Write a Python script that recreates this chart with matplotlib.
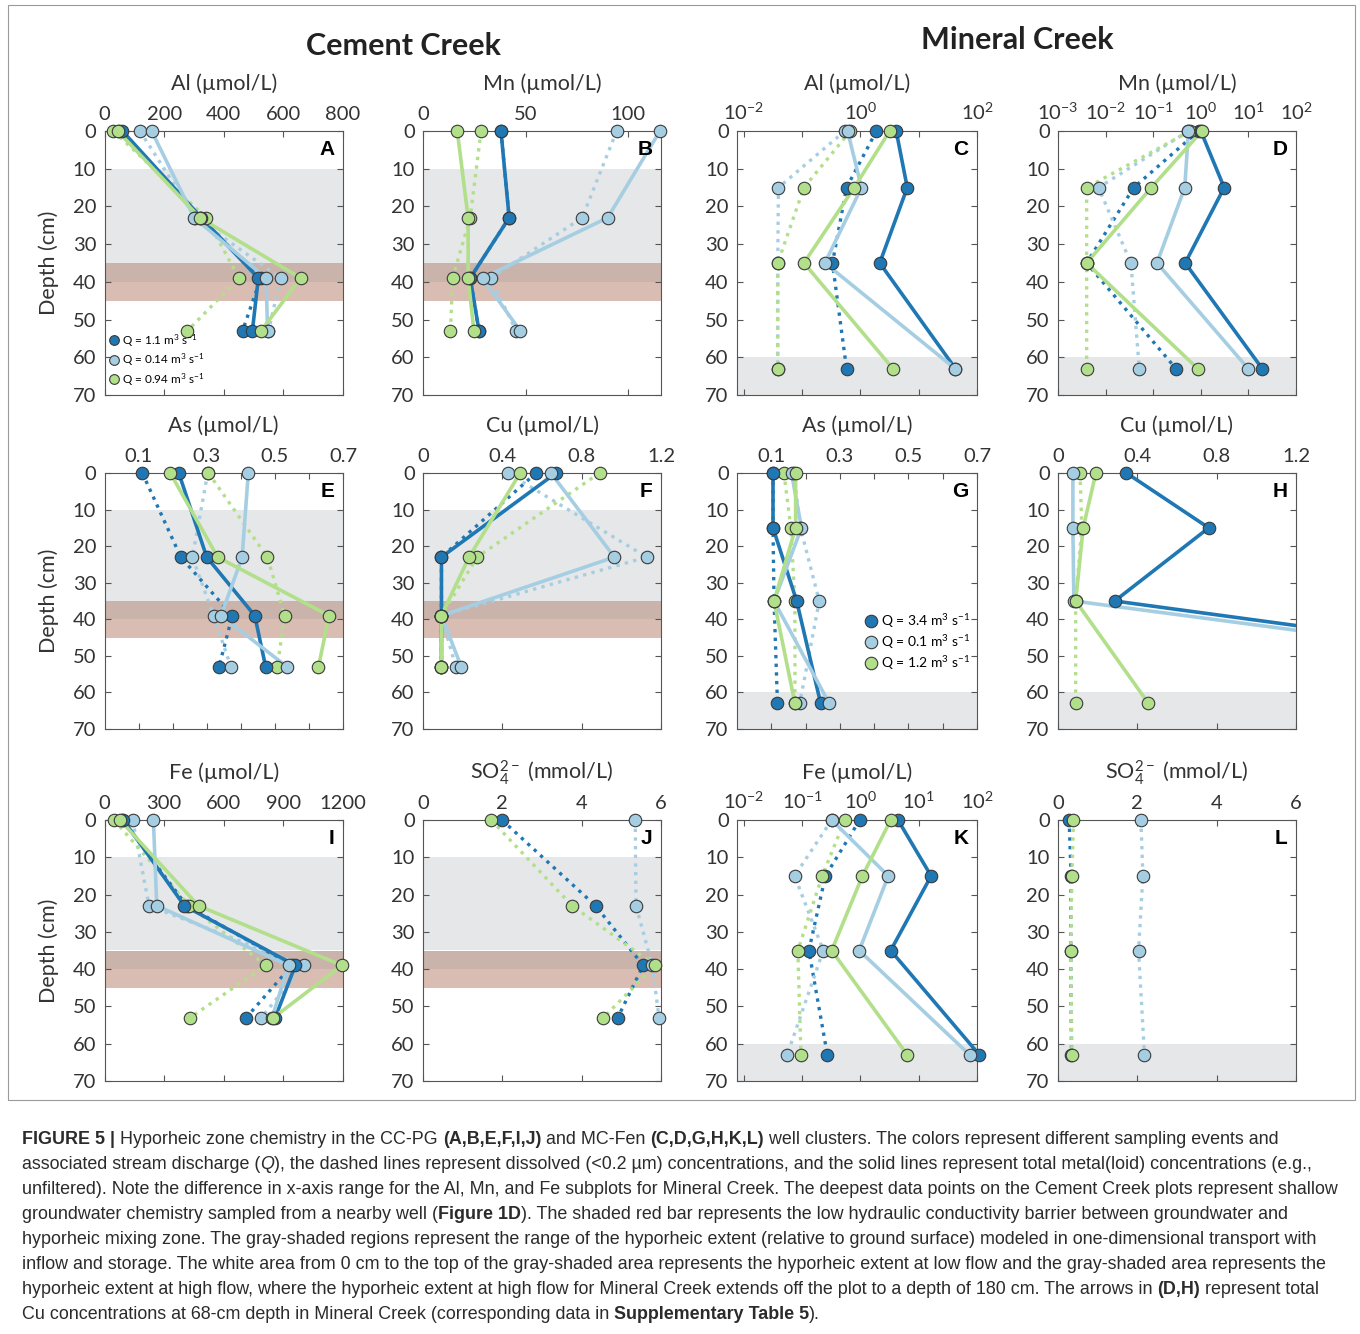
import numpy as np
import matplotlib.pyplot as plt
from matplotlib.lines import Line2D
from matplotlib.patches import Rectangle
from matplotlib.ticker import LogLocator, NullFormatter, NullLocator
from matplotlib.font_manager import FontProperties

plt.rcParams['font.family'] = ['Lato', 'DejaVu Sans']
plt.rcParams['mathtext.fontset'] = 'custom'
plt.rcParams['mathtext.rm'] = 'Lato'
plt.rcParams['mathtext.it'] = 'Lato:italic'
plt.rcParams['mathtext.bf'] = 'Lato:bold'

# -------------------------- DATA --------------------------
# sample depths (cm)
depth_cc = [0, 23, 39, 53]
depth_mc = [0, 15, 35, 63]

# each list holds 3 sampling events: [dark blue, light blue, green]
# *_tot = total (solid), *_dis = dissolved (dotted)
al_cc_tot = [[60, 325, 516, 496], [158, 301, 542, 547], [44, 320, 658, 525]]
al_cc_dis = [[50, 320, 524, 463], [119, 305, 591, 550], [30, 341, 451, 278]]
mn_cc_tot = [[38, 42, 23, 27.3], [115.5, 90, 29, 47.4], [16.7, 22, 22, 24.8]]
mn_cc_dis = [[38, 42, 23, 27.3], [94.4, 77.6, 33, 45.4], [28.3, 23, 14.4, 13.4]]
as_cc_tot = [[0.218, 0.300, 0.441, 0.473], [0.422, 0.404, 0.342, 0.536], [0.193, 0.332, 0.659, 0.628]]
as_cc_dis = [[0.111, 0.224, 0.375, 0.336], [0.303, 0.258, 0.320, 0.371], [0.305, 0.478, 0.529, 0.507]]
cu_cc_tot = [[0.67, 0.093, 0.093, 0.093], [0.645, 0.965, 0.093, 0.193], [0.49, 0.232, 0.093, 0.093]]
cu_cc_dis = [[0.57, 0.093, 0.093, 0.093], [0.427, 1.128, 0.093, 0.165], [0.89, 0.273, 0.093, 0.093]]
fe_cc_tot = [[95, 402, 960, 859], [246, 263, 926, 843], [78, 473, 1195, 850]]
fe_cc_dis = [[90, 414, 943, 713], [142, 224, 1002, 789], [48, 427, 812, 431]]
so4_cc_dis = [[1.99, 4.35, 5.55, 4.91], [5.35, 5.37, 5.78, 5.95], [1.72, 3.76, 5.85, 4.55]]

al_mc_tot = [[4.1, 6.35, 2.14, 42.6], [0.6, 1.04, 0.245, 42], [3.17, 0.78, 0.107, 3.6]]
al_mc_dis = [[1.88, 0.576, 0.33, 0.576], [0.54, 0.039, 0.038, 0.038], [0.67, 0.107, 0.038, 0.038]]
mn_mc_tot = [[1.0, 3.1, 0.47, 19.5], [0.55, 0.46, 0.12, 9.9], [1.06, 0.091, 0.004, 0.86]]
mn_mc_dis = [[0.9, 0.039, 0.004, 0.30], [0.55, 0.0071, 0.034, 0.051], [0.6, 0.004, 0.004, 0.004]]
as_mc_tot = [[0.105, 0.105, 0.174, 0.244], [0.159, 0.188, 0.108, 0.269], [0.171, 0.171, 0.108, 0.169]]
as_mc_dis = [[0.105, 0.105, 0.108, 0.118], [0.165, 0.185, 0.240, 0.183], [0.137, 0.157, 0.169, 0.169]]
cu_mc_tot = [[0.345, 0.76, 0.286, 4.1], [0.075, 0.075, 0.08, 4.0], [0.191, 0.127, 0.089, 0.456]]
cu_mc_dis = [None, None, [0.111, 0.12, 0.089, 0.089]]
fe_mc_tot = [[4.4, 16.3, 3.3, 110], [0.32, 3.0, 0.95, 75], [3.3, 1.08, 0.32, 6.35]]
fe_mc_dis = [[0.97, 0.25, 0.13, 0.27], [0.32, 0.074, 0.23, 0.055], [0.54, 0.22, 0.084, 0.095]]
so4_mc_dis = [[0.28, 0.33, 0.32, 0.34], [2.09, 2.14, 2.03, 2.18], [0.39, 0.35, 0.32, 0.35]]

legend_cc = ['Q = 1.1 m$^3$ s$^{-1}$', 'Q = 0.14 m$^3$ s$^{-1}$', 'Q = 0.94 m$^3$ s$^{-1}$']
legend_mc = ['Q = 3.4 m$^3$ s$^{-1}$', 'Q = 0.1 m$^3$ s$^{-1}$', 'Q = 1.2 m$^3$ s$^{-1}$']

# shaded bands (depth, cm)
cc_gray = (10, 35)
cc_overlap = (35, 40)
cc_red = (40, 45)
mc_gray = (60, 70)

colors = ['#1f78b4', '#a6cee3', '#b2df8a']

# -------------------------- LAYOUT --------------------------
W, H = 1360, 1334
fig = plt.figure(figsize=(W / 100, H / 100), dpi=100)

cols = [(104.5, 343), (423, 661), (737, 977), (1058, 1296)]
rows = [(131, 395), (473, 729), (820, 1081)]

lin = 'lin'
log = 'log'
panels = [
    ('A', 0, 0, 'Al (µmol/L)', 'cc', al_cc_tot, al_cc_dis, lin, (0, 800), [0, 200, 400, 600, 800], None),
    ('B', 0, 1, 'Mn (µmol/L)', 'cc', mn_cc_tot, mn_cc_dis, lin, (0, 116), [0, 50, 100], None),
    ('C', 0, 2, 'Al (µmol/L)', 'mc', al_mc_tot, al_mc_dis, log, (10 ** -2.12, 100), [-2, -1, 0, 1, 2], [-2, 0, 2]),
    ('D', 0, 3, 'Mn (µmol/L)', 'mc', mn_mc_tot, mn_mc_dis, log, (1e-3, 100), [-3, -2, -1, 0, 1, 2], [-3, -2, -1, 0, 1, 2]),
    ('E', 1, 0, 'As (µmol/L)', 'cc', as_cc_tot, as_cc_dis, lin, (0, 0.7), [0.1, 0.2, 0.3, 0.4, 0.5, 0.6, 0.7], [0.1, 0.3, 0.5, 0.7]),
    ('F', 1, 1, 'Cu (µmol/L)', 'cc', cu_cc_tot, cu_cc_dis, lin, (0, 1.2), [0, 0.4, 0.8, 1.2], None),
    ('G', 1, 2, 'As (µmol/L)', 'mc', as_mc_tot, as_mc_dis, lin, (0, 0.7), [0.1, 0.2, 0.3, 0.4, 0.5, 0.6, 0.7], [0.1, 0.3, 0.5, 0.7]),
    ('H', 1, 3, 'Cu (µmol/L)', 'mc', cu_mc_tot, cu_mc_dis, lin, (0, 1.2), [0, 0.4, 0.8, 1.2], None),
    ('I', 2, 0, 'Fe (µmol/L)', 'cc', fe_cc_tot, fe_cc_dis, lin, (0, 1200), [0, 300, 600, 900, 1200], None),
    ('J', 2, 1, 'SO$_4^{2-}$ (mmol/L)', 'cc', None, so4_cc_dis, lin, (0, 6), [0, 2, 4, 6], None),
    ('K', 2, 2, 'Fe (µmol/L)', 'mc', fe_mc_tot, fe_mc_dis, log, (10 ** -2.12, 100), [-2, -1, 0, 1, 2], [-2, -1, 0, 1, 2]),
    ('L', 2, 3, 'SO$_4^{2-}$ (mmol/L)', 'mc', None, so4_mc_dis, lin, (0, 6), [0, 2, 4, 6], None),
]


def fmt(v):
    return '%g' % v


for letter, r, c, title, site, tot, dis, scale, xlim, ticks, labeled in panels:
    x0, x1 = cols[c]
    y0, y1 = rows[r]
    ax = fig.add_axes([x0 / W, 1 - y1 / H, (x1 - x0) / W, (y1 - y0) / H])
    depth = depth_cc if site == 'cc' else depth_mc

    # background bands
    if site == 'cc':
        ax.axhspan(*cc_gray, color='#e6e7e8', lw=0, zorder=0)
        ax.axhspan(*cc_overlap, color='#c9b3ab', lw=0, zorder=0)
        ax.axhspan(*cc_red, color='#dabdb2', lw=0, zorder=0)
    else:
        ax.axhspan(*mc_gray, color='#e6e7e8', lw=0, zorder=0)

    if scale == log:
        ax.set_xscale('log')
    ax.set_xlim(*xlim)
    ax.set_ylim(70, 0)

    # lines
    for i in range(3):
        if dis is not None and dis[i] is not None:
            ax.plot(dis[i], depth, ls=(0, (1, 1.6)), color=colors[i], lw=2.4, zorder=2)
    for i in range(3):
        if tot is not None and tot[i] is not None:
            ax.plot(tot[i], depth, ls='-', color=colors[i], lw=2.6, zorder=3)
    # markers
    for series in (dis, tot):
        if series is None:
            continue
        for i in range(3):
            if series[i] is None:
                continue
            v = np.array(series[i], dtype=float)
            d = np.array(depth, dtype=float)
            keep = v <= xlim[1] * 1.15
            ax.plot(v[keep], d[keep], 'o', ms=9, mfc=colors[i], mec='#3a3a3a',
                    mew=0.8, clip_on=False, zorder=4)

    # ticks
    if scale == log:
        ax.set_xticks([10.0 ** k for k in ticks])
        ax.set_xticklabels([('$10^{%d}$' % k) if k in labeled else '' for k in ticks])
        ax.xaxis.set_minor_locator(LogLocator(base=10, subs=np.arange(2, 10)))
        ax.xaxis.set_minor_formatter(NullFormatter())
    else:
        ax.set_xticks(ticks)
        if labeled is None:
            ax.set_xticklabels([fmt(t) for t in ticks])
        else:
            ax.set_xticklabels([fmt(t) if t in labeled else '' for t in ticks])
        ax.xaxis.set_minor_locator(NullLocator())
    ax.set_yticks(range(0, 71, 10))
    ax.tick_params(which='both', direction='in', top=True, bottom=True, left=True, right=True,
                   labeltop=True, labelbottom=False, colors='#555555', labelcolor='#333333',
                   labelsize=14.5, width=0.8)
    ax.tick_params(which='major', length=4, pad=6)
    ax.tick_params(which='minor', length=2)
    for sp in ax.spines.values():
        sp.set_color('#555555')
        sp.set_linewidth(0.8)

    ax.text(0.5, 1 + 47 / (y1 - y0), title, transform=ax.transAxes, ha='center', va='center',
            fontsize=15.5, color='#333333')
    ax.text(0.965, 0.965, letter, transform=ax.transAxes, ha='right', va='top',
            fontsize=15, fontweight='bold', family='Liberation Sans', color='black')
    if c == 0:
        ax.set_ylabel('Depth (cm)', fontsize=15.5, color='#333333')
        ax.yaxis.set_label_coords(-0.19, 0.5)

    if letter in ('A', 'G'):
        labels = legend_cc if letter == 'A' else legend_mc
        handles = [Line2D([], [], ls='none', marker='o', ms=7 if letter == 'A' else 9,
                          mfc=colors[i], mec='#3a3a3a', mew=0.8) for i in range(3)]
        if letter == 'A':
            ax.legend(handles, labels, loc='lower left', bbox_to_anchor=(-0.01, 0.0), frameon=False,
                      fontsize=8.5, handlelength=0.8, handletextpad=0.3, labelspacing=0.25,
                      borderaxespad=0.2)
        else:
            ax.legend(handles, labels, loc='center left', bbox_to_anchor=(0.5, 0.34), frameon=False,
                      fontsize=10, handlelength=0.8, handletextpad=0.3, labelspacing=0.2,
                      borderaxespad=0.2)

fig.text(403 / W, 1 - 46 / H, 'Cement Creek', ha='center', va='center', fontsize=22,
         fontweight='bold', color='#222222')
fig.text(1017 / W, 1 - 40 / H, 'Mineral Creek', ha='center', va='center', fontsize=22,
         fontweight='bold', color='#222222')

# frame around the figure graphic
fig.add_artist(Rectangle((8 / W, 1 - 1100 / H), (1355 - 8) / W, (1100 - 5) / H,
                         transform=fig.transFigure, fill=False, ec='#9a9a9a', lw=0.8))

# -------------------------- CAPTION --------------------------
caption = [
    [('FIGURE 5 | ', 'b'), ('Hyporheic zone chemistry in the CC-PG ', ''), ('(A,B,E,F,I,J)', 'b'),
     (' and MC-Fen ', ''), ('(C,D,G,H,K,L)', 'b'),
     (' well clusters. The colors represent different sampling events and', '')],
    [('associated stream discharge (', ''), ('Q', 'i'),
     ('), the dashed lines represent dissolved (<0.2 µm) concentrations, and the solid lines represent total metal(loid) concentrations (e.g.,', '')],
    [('unfiltered). Note the difference in x-axis range for the Al, Mn, and Fe subplots for Mineral Creek. The deepest data points on the Cement Creek plots represent shallow', '')],
    [('groundwater chemistry sampled from a nearby well (', ''), ('Figure 1D', 'b'),
     ('). The shaded red bar represents the low hydraulic conductivity barrier between groundwater and', '')],
    [('hyporheic mixing zone. The gray-shaded regions represent the range of the hyporheic extent (relative to ground surface) modeled in one-dimensional transport with', '')],
    [('inflow and storage. The white area from 0 cm to the top of the gray-shaded area represents the hyporheic extent at low flow and the gray-shaded area represents the', '')],
    [('hyporheic extent at high flow, where the hyporheic extent at high flow for Mineral Creek extends off the plot to a depth of 180 cm. The arrows in ', ''),
     ('(D,H)', 'b'), (' represent total', '')],
    [('Cu concentrations at 68-cm depth in Mineral Creek (corresponding data in ', ''),
     ('Supplementary Table 5', 'b'), (').', '')],
]

renderer = fig.canvas.get_renderer()
cap_size = 12.9


def props(sty):
    return FontProperties(family='Liberation Sans', size=cap_size,
                          weight='bold' if 'b' in sty else 'normal',
                          style='italic' if 'i' in sty else 'normal')


def text_w(s, fp):
    w1 = renderer.get_text_width_height_descent('|' + s + '|', fp, ismath=False)[0]
    w0 = renderer.get_text_width_height_descent('||', fp, ismath=False)[0]
    return w1 - w0


for k, segs in enumerate(caption):
    x = 22
    y = 1144 + k * 25
    for txt, sty in segs:
        fp = props(sty)
        fig.text(x / W, 1 - y / H, txt, fontproperties=fp, color='#2b2b2b', va='baseline', ha='left')
        x += text_w(txt, fp)

plt.savefig('out.png', dpi=100)
